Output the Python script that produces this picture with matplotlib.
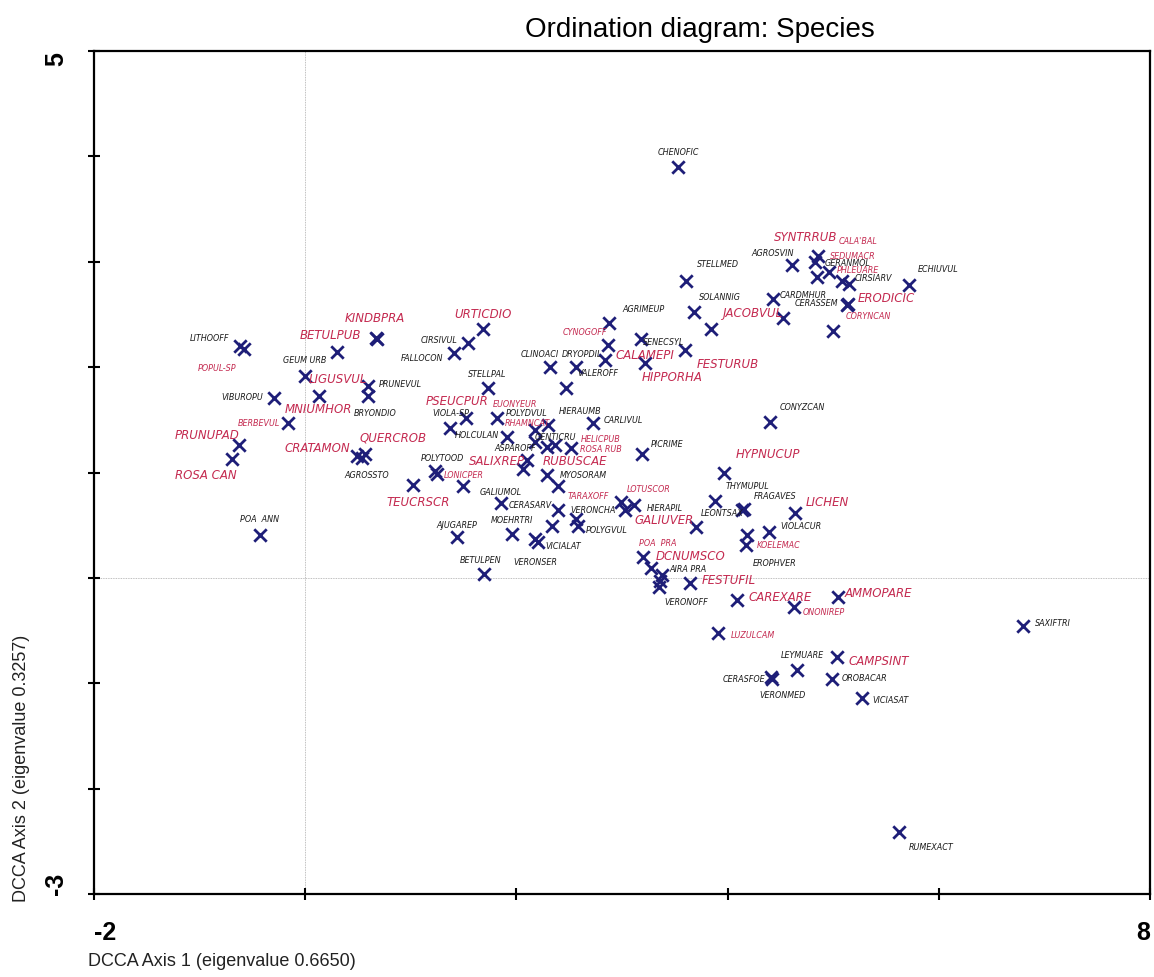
import numpy as np
import matplotlib
matplotlib.use("Agg")
import matplotlib.pyplot as plt

# Species scores on DCCA axes 1 and 2
species = ["CHENOFIC", "STELLMED", "AGRIMEUP", "SOLANNIG", "JACOBVUL", "AGROSVIN",
           "SYNTRRUB", "CALA'BAL", "SEDUMACR", "GERANMOL", "PHLEUARE", "CIRSIARV",
           "ECHIUVUL", "CARDMHUR", "ERODICIC", "CERASSEM", "CORYNCAN", "CYNOGOFF",
           "CALAMEPI", "SENECSYL", "HIPPORHA", "FESTURUB", "CLINOACI", "DRYOPDIL",
           "VALEROFF", "HIERAUMB", "CARLIVUL", "PICRIME", "CONYZCAN", "HYPNUCUP",
           "THYMUPUL", "FRAGAVES", "LEONTSAX", "GALIUVER", "LICHEN", "VIOLACUR",
           "KOELEMAC", "EROPHVER", "POA  PRA", "DCNUMSCO", "AIRA PRA", "VERONOFF",
           "FESTUFIL", "CAREXARE", "AMMOPARE", "ONONIREP", "LUZULCAM", "SAXIFTRI",
           "LEYMUARE", "CAMPSINT", "CERASFOE", "VERONMED", "OROBACAR", "VICIASAT",
           "RUMEXACT", "LITHOOFF", "POPUL-SP", "KINDBPRA", "BETULPUB", "GEUM URB",
           "LIGUSVUL", "PRUNEVUL", "BRYONDIO", "MNIUMHOR", "VIBUROPU", "BERBEVUL",
           "PRUNUPAD", "ROSA CAN", "CRATAMON", "QUERCROB", "AGROSSTO", "CIRSIVUL",
           "FALLOCON", "URTICDIO", "STELLPAL", "PSEUCPUR", "VIOLA-SP", "POLYDVUL",
           "EUONYEUR", "RHAMNCAT", "HOLCULAN", "ASPAROFF", "GENTICRU", "ROSA RUB",
           "HELICPUB", "SALIXREP", "RUBUSCAE", "POLYTOOD", "LONICPER", "TEUCRSCR",
           "GALIUMOL", "CERASARV", "MYOSORAM", "TARAXOFF", "VERONCHA", "LOTUSCOR",
           "HIERAPIL", "POLYGVUL", "MOEHRTRI", "AJUGAREP", "VICIALAT", "VERONSER",
           "BETULPEN", "POA  ANN"]
axis1 = [3.53, 3.61, 3.68, 3.84, 4.52, 4.61,
         4.83, 4.86, 4.96, 4.85, 5.08, 5.15,
         5.72, 4.43, 5.14, 5.13, 5.00, 2.88,
         2.87, 3.18, 3.22, 3.60, 2.32, 2.84,
         2.56, 2.47, 2.73, 3.19, 4.40, 3.97,
         3.88, 4.16, 4.14, 3.70, 4.64, 4.39,
         4.17, 4.18, 3.20, 3.27, 3.38, 3.35,
         3.64, 4.09, 5.05, 4.63, 3.91, 6.80,
         4.66, 5.04, 4.41, 4.42, 4.99, 5.27,
         5.62, -0.62, -0.58, 0.67, 0.68, 0.30,
         0.00, 0.59, 0.59, 0.13, -0.30, -0.16,
         -0.63, -0.69, 0.49, 0.57, 0.54, 1.54,
         1.41, 1.68, 1.73, 1.37, 1.52, 1.82,
         2.30, 2.18, 1.91, 2.18, 2.29, 2.37,
         2.52, 2.06, 2.10, 1.23, 1.25, 1.02,
         1.49, 1.85, 2.29, 2.39, 2.39, 2.99,
         3.11, 2.58, 1.96, 1.44, 2.18, 2.20,
         1.69, -0.43]
axis2 = [3.90, 2.82, 2.52, 2.36, 2.47, 2.97,
         3.00, 3.05, 2.90, 2.86, 2.82, 2.79,
         2.78, 2.65, 2.60, 2.59, 2.34, 2.42,
         2.21, 2.27, 2.04, 2.16, 2.00, 2.07,
         2.00, 1.80, 1.47, 1.18, 1.48, 1.00,
         0.73, 0.65, 0.64, 0.48, 0.62, 0.44,
         0.31, 0.41, 0.20, 0.09, 0.03, -0.09,
         -0.05, -0.21, -0.18, -0.28, -0.52, -0.46,
         -0.87, -0.75, -0.94, -0.96, -0.96, -1.14,
         -2.41, 2.20, 2.17, 2.28, 2.27, 2.14,
         1.92, 1.82, 1.73, 1.73, 1.71, 1.47,
         1.26, 1.13, 1.16, 1.18, 1.14, 2.23,
         2.13, 2.36, 1.80, 1.42, 1.52, 1.52,
         1.45, 1.40, 1.34, 1.29, 1.24, 1.26,
         1.23, 1.03, 1.12, 1.01, 0.99, 0.88,
         0.87, 0.71, 0.98, 0.87, 0.64, 0.72,
         0.69, 0.49, 0.42, 0.39, 0.37, 0.34,
         0.04, 0.41]

# species plotted without a visible label
unlabelled_x = [3.36, 3.03, 2.56, 2.34]
unlabelled_y = [-0.03, 0.64, 0.56, 0.49]

# label groups (styling)
red_big = {"KINDBPRA", "BETULPUB", "LIGUSVUL", "MNIUMHOR", "PRUNUPAD", "ROSA CAN",
           "CRATAMON", "QUERCROB", "TEUCRSCR", "URTICDIO", "PSEUCPUR", "SALIXREP",
           "RUBUSCAE", "CALAMEPI", "HIPPORHA", "FESTURUB", "JACOBVUL", "SYNTRRUB",
           "ERODICIC", "HYPNUCUP", "LICHEN", "GALIUVER", "DCNUMSCO", "FESTUFIL",
           "CAREXARE", "AMMOPARE", "CAMPSINT"}
red_small = {"POPUL-SP", "BERBEVUL", "EUONYEUR", "RHAMNCAT", "HELICPUB", "ROSA RUB",
             "LONICPER", "TARAXOFF", "LOTUSCOR", "CYNOGOFF", "CALA'BAL", "SEDUMACR",
             "PHLEUARE", "CORYNCAN", "KOELEMAC", "POA  PRA", "ONONIREP", "LUZULCAM"}

# label placement, offset from the point in pixels
label_offset = {
    "CHENOFIC": (0, 15), "STELLMED": (32, 17), "AGRIMEUP": (-50, 4), "SOLANNIG": (9, 33),
    "JACOBVUL": (-30, 5), "AGROSVIN": (-19, 12), "SYNTRRUB": (-10, 25), "CALA'BAL": (40, 16),
    "SEDUMACR": (24, 17), "GERANMOL": (30, 14), "PHLEUARE": (16, 11), "CIRSIARV": (24, 6),
    "ECHIUVUL": (29, 16), "CARDMHUR": (30, 4), "ERODICIC": (38, 6), "CERASSEM": (-31, 2),
    "CORYNCAN": (35, 16), "CYNOGOFF": (-24, -9), "CALAMEPI": (37, -10), "SENECSYL": (23, -3),
    "HIPPORHA": (27, -14), "FESTURUB": (42, -13), "CLINOACI": (-10, 14), "DRYOPDIL": (-23, 6),
    "VALEROFF": (22, -5), "HIERAUMB": (14, -22), "CARLIVUL": (30, 3), "PICRIME": (25, 10),
    "CONYZCAN": (33, 15), "HYPNUCUP": (44, 19), "THYMUPUL": (33, 15), "FRAGAVES": (31, 14),
    "LEONTSAX": (-20, -2), "GALIUVER": (-32, 8), "LICHEN": (32, 11), "VIOLACUR": (32, 6),
    "KOELEMAC": (33, 1), "EROPHVER": (28, -28), "POA  PRA": (15, 14), "DCNUMSCO": (40, 13),
    "AIRA PRA": (26, 6), "VERONOFF": (27, -14), "FESTUFIL": (39, 4), "CAREXARE": (43, 4),
    "AMMOPARE": (40, 4), "ONONIREP": (30, -4), "LUZULCAM": (35, -2), "SAXIFTRI": (30, 4),
    "LEYMUARE": (5, 15), "CAMPSINT": (41, -4), "CERASFOE": (-27, -2), "VERONMED": (11, -15),
    "OROBACAR": (32, 2), "VICIASAT": (29, -1), "RUMEXACT": (32, -15), "LITHOOFF": (-30, 9),
    "POPUL-SP": (-27, -18), "KINDBPRA": (-1, 20), "BETULPUB": (-47, 4), "GEUM URB": (-32, -7),
    "LIGUSVUL": (33, -3), "PRUNEVUL": (33, 3), "BRYONDIO": (8, -17), "MNIUMHOR": (-1, -13),
    "VIBUROPU": (-31, 1), "BERBEVUL": (-29, 0), "PRUNUPAD": (-32, 11), "ROSA CAN": (-27, -16),
    "CRATAMON": (-40, 8), "QUERCROB": (28, 17), "AGROSSTO": (5, -17), "CIRSIVUL": (-29, 3),
    "FALLOCON": (-32, -4), "URTICDIO": (0, 16), "STELLPAL": (-1, 15), "PSEUCPUR": (7, 28),
    "VIOLA-SP": (-15, 5), "POLYDVUL": (29, 5), "EUONYEUR": (-33, 22), "RHAMNCAT": (-8, 8),
    "HOLCULAN": (-30, 2), "ASPAROFF": (-20, -6), "GENTICRU": (8, 11), "ROSA RUB": (45, -3),
    "HELICPUB": (29, 10), "SALIXREP": (-26, 9), "RUBUSCAE": (48, -1), "POLYTOOD": (7, 14),
    "LONICPER": (27, -1), "TEUCRSCR": (5, -16), "GALIUMOL": (38, -5), "CERASARV": (30, -1),
    "MYOSORAM": (36, 0), "TARAXOFF": (31, -9), "VERONCHA": (35, 1), "LOTUSCOR": (28, 14),
    "HIERAPIL": (31, -2), "POLYGVUL": (29, -3), "MOEHRTRI": (0, 14), "AJUGAREP": (0, 12),
    "VICIALAT": (28, -7), "VERONSER": (-2, -19), "BETULPEN": (-3, 14), "POA  ANN": (0, 16),
}

#figure
fig = plt.figure(figsize=(11.54, 9.78), dpi=100)
ax = fig.add_axes([94/1154, 1-895/978, 1056/1154, 843/978])

navy = '#1e1e78'
red = '#c42a50'
ax.axvline(0, color='#aaaaaa', lw=0.6, ls=(0, (1, 1)), zorder=0)
ax.axhline(0, color='#aaaaaa', lw=0.6, ls=(0, (1, 1)), zorder=0)

ax.scatter(axis1, axis2, marker='x', s=80, linewidths=2, color=navy, zorder=3)
ax.scatter(unlabelled_x, unlabelled_y, marker='x', s=80, linewidths=2, color=navy, zorder=3)

for name, xv, yv in zip(species, axis1, axis2):
    if name in red_big:
        col, fs = red, 8.5
    elif name in red_small:
        col, fs = red, 5.8
    else:
        col, fs = '#1a1a1a', 5.8
    ax.annotate(name, (xv, yv), xytext=label_offset[name], textcoords='offset pixels',
                ha='center', va='center', fontsize=fs, color=col, style='italic',
                family='DejaVu Sans', zorder=4)

ax.set_xlim(-2, 8)
ax.set_ylim(-3, 5)
ax.set_xticks([-2, 0, 2, 4, 6, 8], ['-2', '', '', '', '', '8'])
ax.set_yticks([-3, -2, -1, 0, 1, 2, 3, 4, 5], ['-3', '', '', '', '', '', '', '', '5'])
ax.tick_params(direction='inout', length=9, width=1.5, pad=14)
for lab in ax.get_xticklabels() + ax.get_yticklabels():
    lab.set_fontsize(18)
    lab.set_fontweight('bold')
    lab.set_family('Liberation Sans')
xl = ax.get_xticklabels()
xl[0].set_ha('left')
xl[-1].set_ha('right')
yl = ax.get_yticklabels()
for lab in yl:
    lab.set_rotation(90)
yl[0].set_va('bottom')
yl[-1].set_va('top')
for sp in ax.spines.values():
    sp.set_linewidth(1.6)

fig.text(700/1154, 1-30/978, 'Ordination diagram: Species', ha='center', va='center',
         fontsize=20, family='Liberation Sans')
fig.text(88/1154, 1-962/978, 'DCCA Axis 1 (eigenvalue 0.6650)', ha='left', va='center',
         fontsize=13, family='Liberation Sans', color='#222222')
fig.text(22/1154, 1-902/978, 'DCCA Axis 2 (eigenvalue 0.3257)', ha='center', va='bottom',
         rotation=90, fontsize=13, family='Liberation Sans', color='#222222')

fig.savefig('out.png', dpi=100)
